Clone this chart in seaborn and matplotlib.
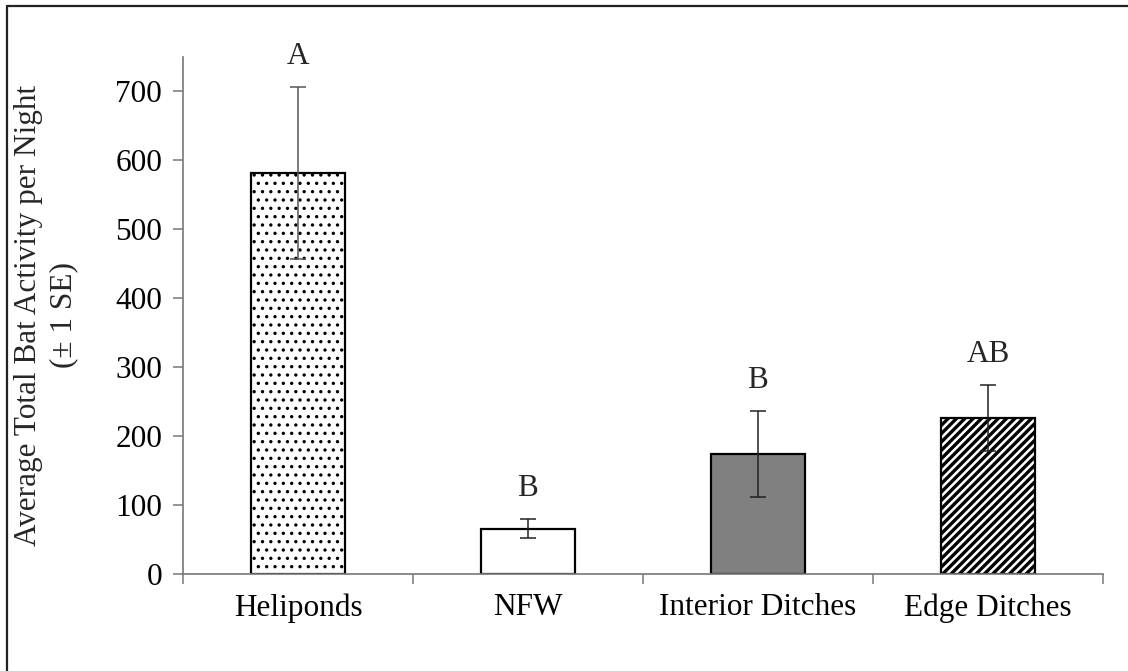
import matplotlib
matplotlib.use("Agg")
import matplotlib.pyplot as plt
import seaborn as sns
from matplotlib.lines import Line2D

categories = ["Heliponds", "NFW", "Interior Ditches", "Edge Ditches"]
means = [582, 66, 174, 226]
se = [125, 14, 62, 48]
letters = ["A", "B", "B", "AB"]
fills = ["white", "white", "#808080", "white"]
hatches = ["..", "", "", "////"]
yticks = [0, 100, 200, 300, 400, 500, 600, 700]

sns.set_theme(style="white")
plt.rcParams["font.family"] = ["Liberation Serif", "DejaVu Serif"]

FS = 22.5
W, H = 1128, 671
fig = plt.figure(figsize=(W / 100, H / 100), dpi=100)
ax = fig.add_axes([183 / W, 1 - 574 / H, (1103 - 183) / W, (574 - 57) / H])

sns.barplot(x=categories, y=means, hue=categories, palette=fills, legend=False,
            errorbar=None, width=0.41, ax=ax, saturation=1,
            edgecolor="black", linewidth=1.6)

for p, h in zip(ax.patches, hatches):
    if h:
        p.set_hatch(h)
        if hasattr(p, "set_hatch_linewidth"):
            p.set_hatch_linewidth(2.4 if "/" in h else 1.2)

xs = list(range(len(categories)))
ecolors = ["#555555", "#222222", "#222222", "#222222"]
for x, m, s, c in zip(xs, means, se, ecolors):
    ax.errorbar(x, m, yerr=s, fmt="none", ecolor=c, elinewidth=1.1,
                capsize=6, capthick=1.1, zorder=5)

for x, m, s, t in zip(xs, means, se, letters):
    ax.annotate(t, xy=(x, m + s), xytext=(0, 22), textcoords="offset points",
                ha="center", va="center", fontsize=FS, annotation_clip=False)

ax.set_xlim(-0.5, 3.5)
ax.set_ylim(0, 750)
ax.set_yticks(yticks)
ax.set_yticklabels([str(v) for v in yticks])
ax.set_xticks(xs)
ax.set_xticks([-0.5, 0.5, 1.5, 2.5, 3.5], minor=True)
ax.tick_params(axis="x", which="major", length=0, pad=14, labelsize=FS, colors="black")
ax.tick_params(axis="x", which="minor", length=7, width=1.1, color="#777777", direction="out", bottom=True)
ax.tick_params(axis="y", which="major", length=7, width=1.1, color="#777777", direction="out",
               left=True, pad=8, labelsize=FS, labelcolor="black")
for sp in ["top", "right"]:
    ax.spines[sp].set_visible(False)
for sp in ["left", "bottom"]:
    ax.spines[sp].set_color("#777777")
    ax.spines[sp].set_linewidth(1.2)

ax.set_xlabel("")
ax.set_ylabel("Average Total Bat Activity per Night\n(± 1 SE)", fontsize=FS,
              ha="center", va="center", linespacing=1.25)
ax.yaxis.set_label_coords((46 - 183) / 920, 0.5)

# partial outer frame (left and top edges)
fig.add_artist(Line2D([6.5 / W, 6.5 / W], [0, 1 - 6 / H], transform=fig.transFigure,
                      color="#222222", linewidth=1.6))
fig.add_artist(Line2D([6.5 / W, 1], [1 - 6 / H, 1 - 6 / H], transform=fig.transFigure,
                      color="#222222", linewidth=1.6))

fig.savefig("out.png", dpi=100, facecolor="white")
